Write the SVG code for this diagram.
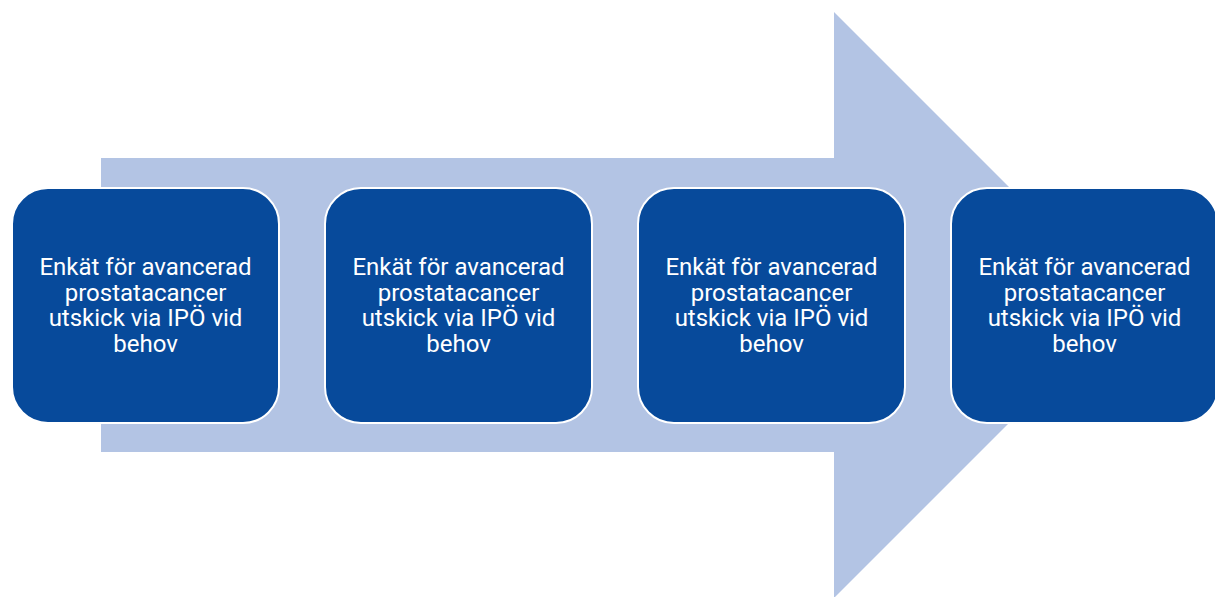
<svg xmlns="http://www.w3.org/2000/svg" width="1215" height="597" viewBox="0 0 1215 597">
<style>
.box{fill:#074A9B;stroke:#FFFFFF;stroke-width:2}
.lbl{font-family:Roboto,"Liberation Sans",sans-serif;font-size:24px;fill:#FFFFFF;text-anchor:middle}
</style>
<rect width="1215" height="597" fill="#FFFFFF"/>
<g id="connectors">
<polygon points="101,158 834,158 834,12 1127,305 834,598 834,452 101,452" fill="#B3C4E4"/>
</g>
<g id="node1">
<rect class="box" x="12" y="188" width="267" height="235" rx="36" ry="36"/>
<text class="lbl" x="145.5"><tspan x="145.5" y="275">Enkät för avancerad</tspan><tspan x="145.5" y="301">prostatacancer</tspan><tspan x="145.5" y="326">utskick via IPÖ vid</tspan><tspan x="145.5" y="352">behov</tspan></text>
</g>
<g id="node2">
<rect class="box" x="325" y="188" width="267" height="235" rx="36" ry="36"/>
<text class="lbl" x="458.5"><tspan x="458.5" y="275">Enkät för avancerad</tspan><tspan x="458.5" y="301">prostatacancer</tspan><tspan x="458.5" y="326">utskick via IPÖ vid</tspan><tspan x="458.5" y="352">behov</tspan></text>
</g>
<g id="node3">
<rect class="box" x="638" y="188" width="267" height="235" rx="36" ry="36"/>
<text class="lbl" x="771.5"><tspan x="771.5" y="275">Enkät för avancerad</tspan><tspan x="771.5" y="301">prostatacancer</tspan><tspan x="771.5" y="326">utskick via IPÖ vid</tspan><tspan x="771.5" y="352">behov</tspan></text>
</g>
<g id="node4">
<rect class="box" x="951" y="188" width="267" height="235" rx="36" ry="36"/>
<text class="lbl" x="1084.5"><tspan x="1084.5" y="275">Enkät för avancerad</tspan><tspan x="1084.5" y="301">prostatacancer</tspan><tspan x="1084.5" y="326">utskick via IPÖ vid</tspan><tspan x="1084.5" y="352">behov</tspan></text>
</g>
</svg>
